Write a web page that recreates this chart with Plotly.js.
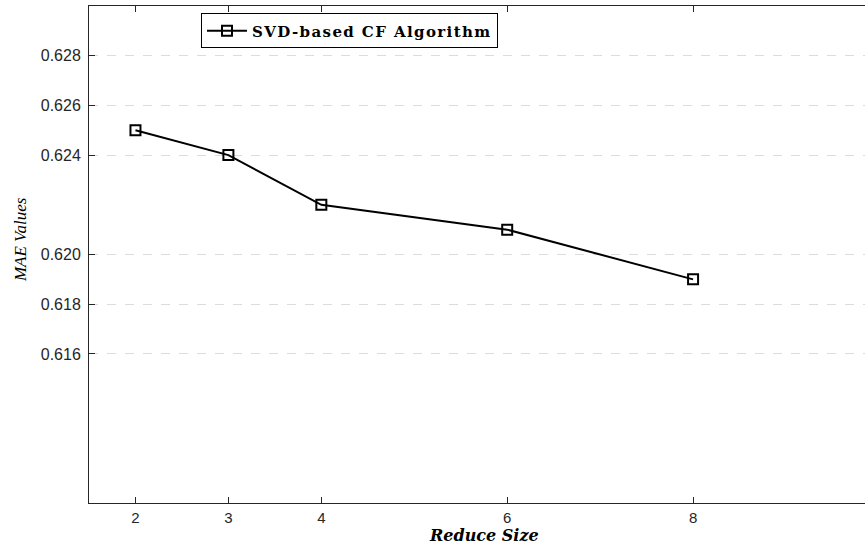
<!DOCTYPE html>
<html>
<head>
<meta charset="utf-8">
<script src="https://cdn.plot.ly/plotly-3.0.1.min.js"></script>
<style>html,body{margin:0;padding:0;background:#fff;}#chart{width:865px;height:544px;}
.legendtext{letter-spacing:1.4px;}</style>
</head>
<body>
<div id="chart"></div>
<script>
var reduceSize = [2, 3, 4, 6, 8];
var maeValues = [0.625, 0.624, 0.622, 0.621, 0.619];
var seriesName = 'SVD-based CF Algorithm';
var yTickVals = [0.616, 0.618, 0.620, 0.624, 0.626, 0.628];
var yTickText = ['0.616', '0.618', '0.620', '0.624', '0.626', '0.628'];
var xTickVals = [2, 3, 4, 6, 8];
var xTitle = 'Reduce Size';
var yTitle = 'MAE Values';

var trace = {
  x: reduceSize,
  y: maeValues,
  name: seriesName,
  type: 'scatter',
  mode: 'lines+markers',
  line: {color: '#000', width: 2},
  marker: {symbol: 'square-open', size: 10, color: '#000', line: {width: 2, color: '#000'}}
};

var layout = {
  width: 865, height: 544,
  margin: {l: 89, r: 0, t: 6, b: 41},
  paper_bgcolor: '#fff', plot_bgcolor: '#fff',
  showlegend: true,
  legend: {
    x: 0.1443, y: 0.985, xanchor: 'left', yanchor: 'top',
    bgcolor: '#fff', bordercolor: '#000', borderwidth: 1,
    itemwidth: 40,
    font: {family: 'DejaVu Serif', size: 15, color: '#000', weight: 'bold'},
    tracegroupgap: 0
  },
  xaxis: {
    range: [1.5, 9.85],
    tickvals: xTickVals,
    ticks: 'inside', ticklen: 6, tickcolor: '#262626',
    showline: true, linecolor: '#262626', linewidth: 1, mirror: 'ticks',
    showgrid: false, zeroline: false,
    ticklabelstandoff: 1,
    tickfont: {family: 'Liberation Sans', size: 15, color: '#262626'}
  },
  yaxis: {
    range: [0.610, 0.630],
    tickvals: yTickVals, ticktext: yTickText,
    ticks: 'inside', ticklen: 6, tickcolor: '#262626',
    showline: true, linecolor: '#262626', linewidth: 1, mirror: false,
    showgrid: true, gridcolor: '#dcdcdc', griddash: 'dash', gridwidth: 1,
    zeroline: false,
    ticklabelstandoff: 4,
    tickfont: {family: 'Liberation Sans', size: 16, color: '#262626'}
  },
  annotations: [
    {text: xTitle, xref: 'paper', yref: 'paper', x: 0.509, y: -0.066, xanchor: 'center', yanchor: 'middle',
     showarrow: false, font: {family: 'DejaVu Serif', size: 16, style: 'italic', weight: 'bold', color: '#000'}},
    {text: yTitle, xref: 'paper', yref: 'paper', x: -0.0889, y: 0.529, xanchor: 'center', yanchor: 'middle',
     textangle: -90, showarrow: false, font: {family: 'Liberation Serif', size: 17, style: 'italic', color: '#000'}}
  ]
};

Plotly.newPlot('chart', [trace], layout, {displayModeBar: false, staticPlot: true});
</script>
</body>
</html>
